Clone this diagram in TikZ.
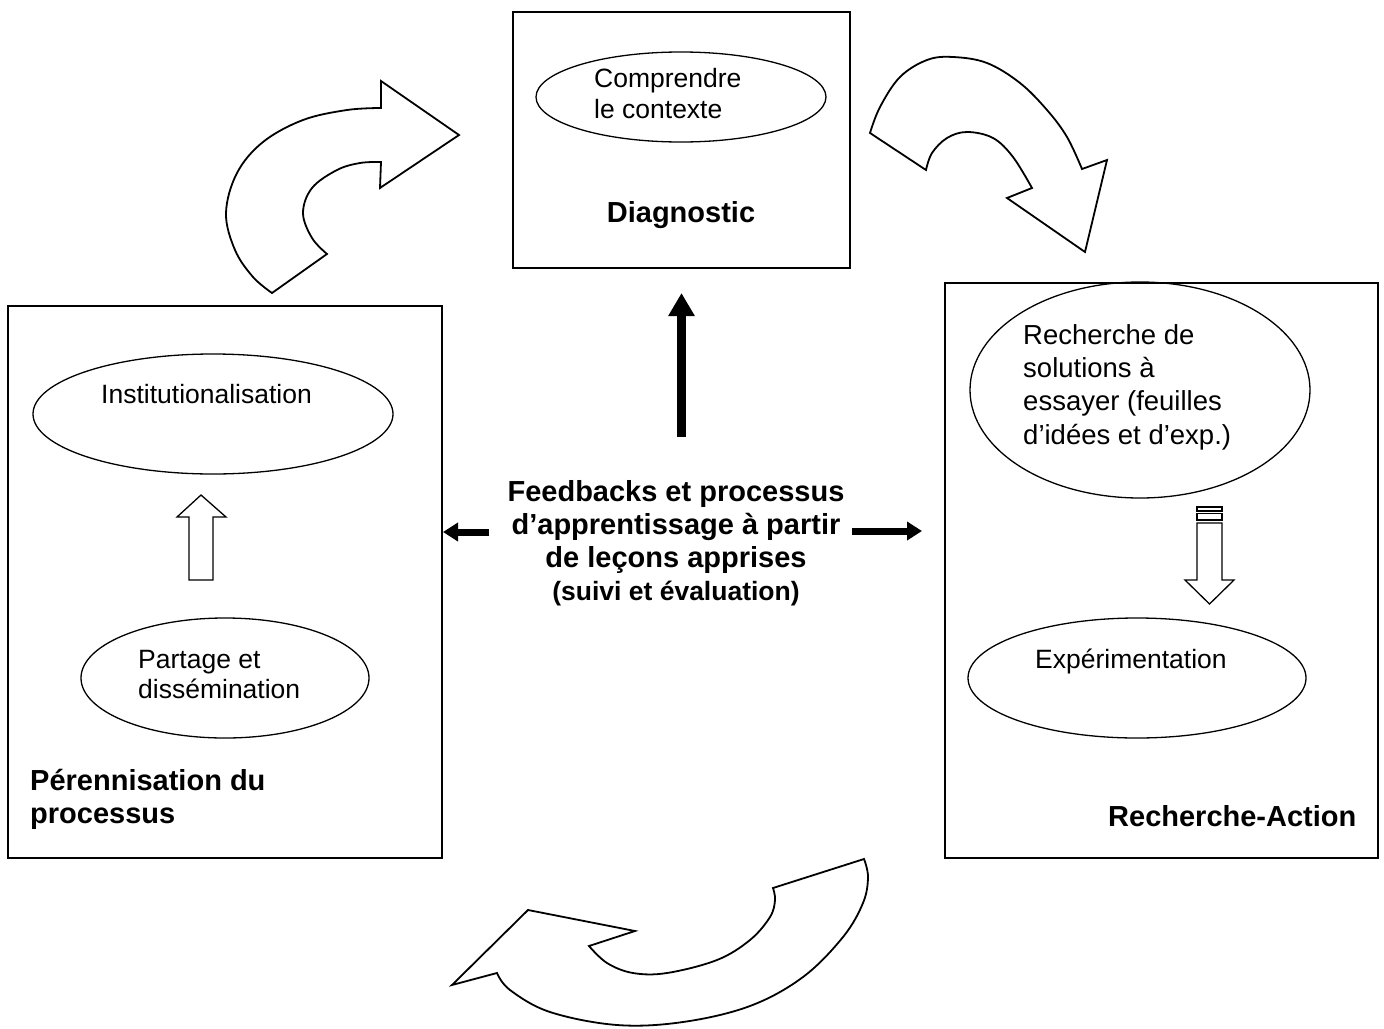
\documentclass[tikz,border=0pt]{standalone}
\usepackage{fontspec}
\setmainfont{Liberation Sans}
\usetikzlibrary{shapes.geometric,arrows.meta}
\begin{document}
\begin{tikzpicture}[x=1pt,y=-1pt,
 frame/.style={draw, line width=1.3pt, inner sep=0pt, rectangle},
 oval/.style={draw, ellipse, line width=1.3pt, inner sep=0pt},
 txt/.style={anchor=base west, inner sep=0pt, align=left, font=\fontsize{26.5pt}{31pt}\selectfont},
 btxt/.style={inner sep=0pt, align=left, font=\fontsize{29pt}{33pt}\selectfont\bfseries},
 bigarrow/.style={draw, line width=1.8pt, fill=white, line join=miter},
 blockarrow/.style={draw, line width=1.3pt, fill=white},
 fbarrow/.style={line width=7pt, -{Triangle[length=15pt,width=18pt]}},
 uparrow/.style={line width=8.5pt, -{Triangle[length=23pt,width=25pt]}},
]
\useasboundingbox (0,0) rectangle (1384,1028);

% boxes
\node[frame, minimum width=337pt, minimum height=256pt] (diag) at (681.5,140) {};
\node[frame, minimum width=434pt, minimum height=552pt] (pere) at (225,582) {};
\node[frame, minimum width=433pt, minimum height=575pt] (ra) at (1161.5,570.5) {};

% ellipses
\node[oval, minimum width=290pt, minimum height=90pt] (comp) at (681,97) {};
\node[oval, minimum width=360pt, minimum height=120pt] (inst) at (213,414) {};
\node[oval, minimum width=288pt, minimum height=120pt] (part) at (225,678) {};
\node[oval, minimum width=340pt, minimum height=216pt] (rech) at (1140,390) {};
\node[oval, minimum width=338pt, minimum height=120pt] (exp) at (1137,678) {};

% texts (base anchor of a multi-line node = baseline of its last line)
\node[txt] (tcomp) at (594,118) {Comprendre\\le contexte};
\node[btxt, anchor=base] (tdiag) at (681,222) {Diagnostic};
\node[txt] (tinst) at (101,403) {Institutionalisation};
\node[txt, font=\fontsize{26.5pt}{29.5pt}\selectfont] (tpart) at (138,698) {Partage et\\dissémination};
\node[btxt, anchor=base west] (tpere) at (30,823) {Pérennisation du\\processus};
\node[txt, font=\fontsize{27.5pt}{33.3pt}\selectfont] (trech) at (1023,444) {Recherche de\\solutions à\\essayer (feuilles\\d’idées et d’exp.)};
\node[txt] (texp) at (1035,668) {Expérimentation};
\node[btxt, anchor=base west] (tra) at (1108,826) {Recherche-Action};
\node[btxt, align=center, anchor=base] (fb) at (676,600) {Feedbacks et processus\\d’apprentissage à partir\\de leçons apprises\\{\fontsize{26.5pt}{35pt}\selectfont (suivi et évaluation)}};

% thick feedback arrows
\coordinate (upS) at (681.5,437);
\coordinate (upE) at (681.5,293);
\coordinate (lS) at (489,532);
\coordinate (lE) at (443,532);
\coordinate (rS) at (852,531);
\coordinate (rE) at (922,531);
\draw[uparrow] (upS) -- (upE);
\draw[fbarrow] (lS) -- (lE);
\draw[fbarrow] (rS) -- (rE);

% block arrow up (left box)
\draw[blockarrow] (189,580) -- (189,517) -- (177,517) -- (201,495) -- (226,517) -- (213,517) -- (213,580) -- cycle;

% striped block arrow down (right box)
\draw[blockarrow] (1197,507) rectangle (1222,511);
\draw[blockarrow] (1197,513.5) rectangle (1222,520);
\draw[blockarrow] (1197,523) -- (1197,580) -- (1185,580) -- (1209.5,604) -- (1234,580) -- (1222,580) -- (1222,523) -- cycle;

% curved arrow top-left
\draw[bigarrow] (272,293) -- (327,254)
  -- plot[smooth, tension=0.6] coordinates {(327,254) (312,238) (303,213) (312,188) (337,170) (360,163) (381,162)}
  -- (380,188) -- (459,135) -- (381,81) -- (381,108)
  -- plot[smooth, tension=0.6] coordinates {(381,108) (347,110) (303,120) (263,142) (237,173) (226,213) (235,250) (253,277) (272,293)}
  -- cycle;

% curved arrow top-right
\draw[bigarrow] (870,133) -- (926,170)
  -- plot[smooth, tension=0.6] coordinates {(926,170) (932,153) (947,138) (967,132) (993,138) (1013,157) (1032,188)}
  -- (1007,198) -- (1085,252) -- (1107,160) -- (1082,169)
  -- plot[smooth, tension=0.6] coordinates {(1082,169) (1067,137) (1047,110) (1020,83) (987,63) (953,57) (927,60) (900,77) (880,107) (870,133)}
  -- cycle;

% curved arrow bottom
\draw[bigarrow] (864,859) -- (773,888)
  -- plot[smooth, tension=0.6] coordinates {(773,888) (775,900) (770,917) (750,940) (717,960) (667,973) (633,973) (607,963) (589,946)}
  -- (635,931) -- (528,910) -- (452,985) -- (497,973)
  -- plot[smooth, tension=0.6] coordinates {(497,973) (510,990) (550,1012) (617,1025) (683,1022) (750,1006) (803,977) (843,937) (863,903) (868,877) (864,859)}
  -- cycle;
\end{tikzpicture}
\end{document}
